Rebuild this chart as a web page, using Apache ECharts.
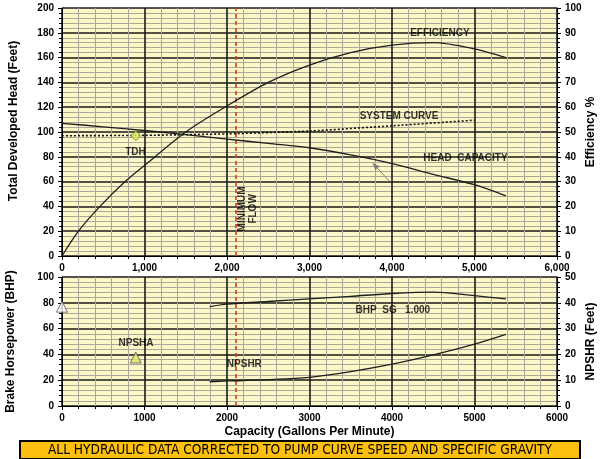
<!DOCTYPE html>
<html>
<head>
<meta charset="utf-8">
<script src="https://cdn.jsdelivr.net/npm/echarts@6/dist/echarts.min.js"></script>
<style>
html,body{margin:0;padding:0;background:#fff;}
#c{width:600px;height:459px;}
</style>
</head>
<body>
<div id="c"></div>
<script>
// ---- data ----
const effQ    = [0, 200, 460, 765, 1000, 1500, 2000, 2500, 3000, 3500, 4000, 4500, 5000, 5380];
const effPct  = [0, 10, 20, 30, 36.5, 50, 60.5, 70, 77, 82, 85, 86, 83.5, 80];
const headQ   = [0, 500, 1000, 1500, 2000, 2500, 3000, 3500, 4000, 4500, 5000, 5380];
const headFt  = [107, 104.2, 101.2, 97.9, 94.3, 90.8, 87.3, 81.5, 74.5, 65.8, 57.5, 48.5];
const systemQ  = [0, 1000, 2000, 3000, 4000, 5000];
const systemFt = [97, 97.3, 98.5, 100.8, 105, 109.5];
const bhpQ    = [1790, 2000, 2500, 3000, 3500, 4000, 4500, 5000, 5380];
const bhpHp   = [77, 79, 81, 83, 85, 87.2, 88.3, 85.5, 83];
const npshrQ  = [1790, 2000, 2500, 3000, 3500, 4000, 4500, 5000, 5380];
const npshrFt = [9.4, 9.7, 10.2, 11.1, 13.3, 16.2, 19.8, 24, 27.8];
const tdhPoint     = [895, 97];     // gpm, ft
const npshaPoint   = [893, 18.8];   // gpm, ft (NPSH axis)
const shutoffPoint = [0, 77];       // gpm, BHP
const minFlowGpm   = 2100;
const xTicks = [0, 1000, 2000, 3000, 4000, 5000, 6000];

// annotation texts and their anchor points (data coordinates)
const topNotes = [
  {text: 'EFFICIENCY', at: [4580, 180]},
  {text: 'SYSTEM CURVE', at: [4085, 113]},
  {text: 'HEAD  CAPACITY', at: [4890, 79]},
  {text: 'TDH', at: [890, 84]}
];
const bottomNotes = [
  {text: 'NPSHA', at: [897, 48.6]},
  {text: 'NPSHR', at: [2210, 32.2]},
  {text: 'BHP  SG   1.000', at: [4010, 74]}
];
const minFlowLabel = {text: 'MINIMUM\nFLOW', at: [2250, 38]};
const headArrow = [[3967, 60.5], [3767, 74.8]];
const footerText = 'ALL HYDRAULIC DATA CORRECTED TO PUMP CURVE SPEED AND SPECIFIC GRAVITY';

// ---- chart ----
const FONT = '"Liberation Sans", Arial, sans-serif';
const zip = (a, b) => a.map((v, i) => [v, b[i]]);
const MAJOR = '#1a1a1a', MINOR = '#a9a99a';

function xAxisCfg(gridIndex, fmt, extra) {
  return Object.assign({
    type: 'value', gridIndex, min: xTicks[0], max: xTicks[xTicks.length - 1], interval: 1000,
    axisLine: {show: true, onZero: false, lineStyle: {color: '#000', width: 1}},
    axisTick: {show: true, inside: false, length: 4, lineStyle: {color: '#000'}},
    minorTick: {show: true, splitNumber: 5, length: 3, lineStyle: {color: '#000'}},
    splitLine: {show: true, lineStyle: {color: MAJOR, width: 1.6}},
    minorSplitLine: {show: true, lineStyle: {color: MINOR, width: 1}},
    axisLabel: {color: '#000', fontFamily: FONT, fontSize: 10, fontWeight: 'bold', margin: 7, formatter: fmt}
  }, extra || {});
}
function yAxisCfg(gridIndex, pos, max, interval, name, gap, grid, pad) {
  return {
    type: 'value', gridIndex, position: pos, min: 0, max, interval,
    name, nameLocation: 'middle', nameGap: gap, nameRotate: 90, nameMoveOverlap: false,
    nameTextStyle: {color: '#000', fontFamily: FONT, fontSize: 12, fontWeight: 'bold', padding: pad || 0},
    axisLine: {show: true, lineStyle: {color: '#000', width: 1}},
    axisTick: {show: true, inside: false, length: 4, lineStyle: {color: '#000'}},
    minorTick: {show: true, splitNumber: 5, length: 3, lineStyle: {color: '#000'}},
    splitLine: {show: grid, lineStyle: {color: MAJOR, width: 1.6}},
    minorSplitLine: {show: grid, lineStyle: {color: MINOR, width: 1}},
    axisLabel: {color: '#000', fontFamily: FONT, fontSize: 10, fontWeight: 'bold', margin: 8}
  };
}
function curve(name, xi, yi, q, v, extra) {
  return Object.assign({
    name, type: 'line', xAxisIndex: xi, yAxisIndex: yi, data: zip(q, v),
    smooth: 0.3, showSymbol: false, symbol: 'none',
    lineStyle: {color: '#1e1e1e', width: 1.3}, z: 5, silent: true
  }, extra || {});
}
function noteSeries(notes, xi, yi) {
  return {
    type: 'scatter', xAxisIndex: xi, yAxisIndex: yi, symbolSize: 0, silent: true, z: 8,
    data: notes.map(n => ({value: n.at, label: {formatter: n.text}})),
    label: {show: true, position: 'inside', color: '#000', fontFamily: FONT, fontSize: 10, fontWeight: 'bold'}
  };
}
const minFlowMark = {
  silent: true, symbol: 'none',
  lineStyle: {color: '#e23a2a', type: [4, 3], width: 1.7},
  label: {show: false},
  data: [{xAxis: minFlowGpm}]
};

const chart = echarts.init(document.getElementById('c'), null, {renderer: 'canvas'});
chart.setOption({
  animation: false,
  backgroundColor: '#fff',
  grid: [
    {left: 62, right: 43, top: 8, height: 248, show: true, backgroundColor: '#fbf7c6', borderWidth: 0, outerBoundsMode: 'none', containLabel: false},
    {left: 62, right: 43, top: 277, height: 129, show: true, backgroundColor: '#fbf7c6', borderWidth: 0, outerBoundsMode: 'none', containLabel: false}
  ],
  xAxis: [
    xAxisCfg(0, v => v.toLocaleString('en-US')),
    xAxisCfg(1, v => String(v), {
      name: 'Capacity (Gallons Per Minute)', nameLocation: 'middle', nameGap: 20, nameMoveOverlap: false,
      nameTextStyle: {color: '#000', fontFamily: FONT, fontSize: 12, fontWeight: 'bold'}
    })
  ],
  yAxis: [
    yAxisCfg(0, 'left', 200, 20, 'Total Developed Head (Feet)', 42, true, [0, 0, 0, 22]),
    yAxisCfg(0, 'right', 100, 10, 'Efficiency %', 28, false),
    yAxisCfg(1, 'left', 100, 20, 'Brake Horsepower (BHP)', 45, true),
    yAxisCfg(1, 'right', 50, 10, 'NPSHR (Feet)', 28, false)
  ],
  series: [
    curve('Head Capacity', 0, 0, headQ, headFt, {markLine: minFlowMark}),
    curve('Efficiency', 0, 1, effQ, effPct),
    curve('System Curve', 0, 0, systemQ, systemFt, {smooth: 0.2, lineStyle: {color: '#111', width: 1.6, type: [2, 2]}}),
    curve('BHP', 1, 2, bhpQ, bhpHp, {markLine: minFlowMark}),
    curve('NPSHR', 1, 3, npshrQ, npshrFt),
    {
      type: 'line', xAxisIndex: 0, yAxisIndex: 0, data: headArrow, showSymbol: false, symbol: 'none',
      lineStyle: {opacity: 0}, silent: true, z: 6,
      markLine: {silent: true, symbol: ['none', 'arrow'], symbolSize: [5, 8], label: {show: false},
        lineStyle: {color: '#7a7a7a', width: 1, type: 'solid'},
        data: [[{coord: headArrow[0]}, {coord: headArrow[1]}]]}
    },
    {
      type: 'scatter', xAxisIndex: 0, yAxisIndex: 0, data: [tdhPoint], symbol: 'diamond', symbolSize: 10,
      itemStyle: {color: '#d9e85e', borderColor: '#6f7d22', borderWidth: 1}, z: 9, silent: true
    },
    {
      type: 'scatter', xAxisIndex: 1, yAxisIndex: 3, data: [npshaPoint], symbol: 'triangle', symbolSize: 11,
      itemStyle: {color: '#dde46a', borderColor: '#555', borderWidth: 1}, z: 9, silent: true
    },
    {
      type: 'scatter', xAxisIndex: 1, yAxisIndex: 2, data: [shutoffPoint], symbol: 'triangle', symbolSize: 11,
      itemStyle: {color: '#ffffff', borderColor: '#555', borderWidth: 1}, z: 9, silent: true
    },
    noteSeries(topNotes, 0, 0),
    noteSeries(bottomNotes, 1, 2),
    {
      type: 'scatter', xAxisIndex: 0, yAxisIndex: 0, symbolSize: 0, silent: true, z: 8,
      data: [{value: minFlowLabel.at}],
      label: {show: true, position: 'inside', rotate: 90, formatter: minFlowLabel.text, align: 'center',
        color: '#000', fontFamily: FONT, fontSize: 10, fontWeight: 'bold', lineHeight: 11}
    }
  ],
  graphic: [{
    type: 'group', left: 19, top: 440,
    children: [
      {type: 'rect', shape: {x: 0, y: 0, width: 560, height: 18},
        style: {fill: '#fdc010', stroke: '#000', lineWidth: 2}},
      {type: 'text', x: 280, y: 9,
        style: {text: footerText, fill: '#000', align: 'center', verticalAlign: 'middle',
          font: '13.6px "Liberation Sans Narrow", "Arial Narrow", "DejaVu Sans Condensed", sans-serif'}}
    ]
  }]
});
</script>
</body>
</html>
